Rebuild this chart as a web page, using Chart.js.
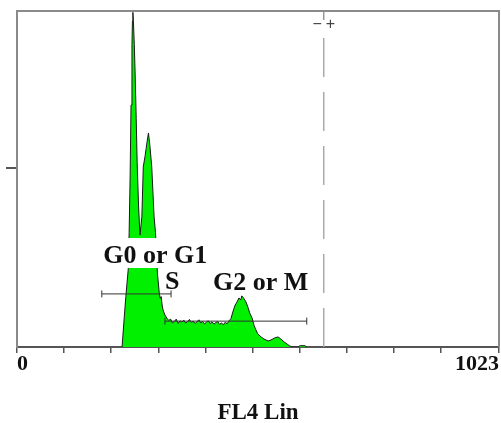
<!DOCTYPE html>
<html>
<head>
<meta charset="utf-8">
<script src="https://cdn.jsdelivr.net/npm/chart.js@4/dist/chart.umd.min.js"></script>
<style>
  html, body { margin: 0; padding: 0; background: #fff; overflow: hidden; }
  #wrap { width: 504px; height: 423px; }
</style>
</head>
<body>
<div id="wrap"><canvas id="c"></canvas></div>
<script>
'use strict';

// FL4 channel (0..1023) and event counts
const channels = [
  223, 227, 231, 236, 238, 240, 242, 244, 245, 246, 247, 249, 251, 253, 255,
  258, 261, 265, 268, 272, 274, 276, 279, 282, 286, 291, 294, 298, 302, 304,
  306, 308, 310, 314, 318,
  322, 326, 330, 334, 338, 342, 346, 350, 354, 358, 362, 366, 370, 374, 378,
  382, 386, 390, 394, 398, 402, 406, 410, 414, 418, 422, 426, 430, 434, 438,
  442, 446, 450,
  454, 458, 463, 467, 471, 475, 477, 480, 482, 486, 490, 494, 499, 503, 507,
  511, 518, 524, 533, 539, 547, 554, 560, 567, 573, 579, 586, 596, 601, 611, 615
];
const counts = [
  0, 7.7, 15, 23, 34, 50, 72, 90, 97, 99.6, 97, 90, 80, 68, 55,
  42, 33.3, 38.7, 53.6, 57, 59, 61, 63.7, 60, 53.6, 38.7, 34, 22, 16, 14.5,
  15, 12.5, 11, 9.5, 8.6,
  7.9, 8.3, 7.2, 7.6, 8.3, 7.0, 7.8, 7.4, 8.0, 7.1, 7.6, 8.2, 7.3, 7.7, 7.0,
  7.5, 8.1, 7.2, 7.6, 6.9, 7.4, 7.8, 7.0, 7.5, 6.8, 7.3, 7.6, 6.7, 7.2, 6.6,
  7.4, 6.9, 7.8,
  8.4, 10.4, 12.5, 13.4, 14.6, 14.0, 15.2, 14.8, 14.3, 13.4, 11.9, 10.1, 8.6, 6.5, 5.1,
  3.9, 3.0, 2.4, 1.8, 2.1, 2.7, 3.0, 2.4, 1.5, 0.9, 0.3, 0, 0, 0.4, 0.4, 0
];

const xTicks = [0, 100, 200, 300, 400, 500, 600, 700, 800, 900, 1023];
const yTicks = [53.3];

// region markers (channel range and height)
const rangeStart = [180, 314];
const rangeEnd = [327, 615];
const rangeLevel = [15.8, 7.7];

// phase labels, anchored at channel / count
const labelText = ['G0 or G1', 'S', 'G2 or M'];
const labelX = [183, 314, 416];
const labelY = [25, 17.3, 17];

const gateX = 651;

const histData = channels.map((c, i) => ({ x: c, y: counts[i] }));

const rangeSets = rangeStart.map((s, i) => ({
  data: [{ x: s, y: rangeLevel[i] }, { x: rangeEnd[i], y: rangeLevel[i] }],
  borderColor: '#333', borderWidth: 1, fill: false,
  pointStyle: 'line', pointRotation: 90, pointRadius: 3.5,
  pointBorderColor: '#333', pointBorderWidth: 1, order: 1
}));

const labelPlugin = {
  id: 'phaseLabels',
  afterDatasetDraw(chart, args) {
    if (args.index !== 0) return;
    const { ctx, scales: { x, y } } = chart;
    ctx.save();
    ctx.font = 'bold 26px "Liberation Serif"';
    ctx.textAlign = 'left';
    ctx.textBaseline = 'alphabetic';
    labelText.forEach((t, i) => {
      const px = x.getPixelForValue(labelX[i]);
      const py = y.getPixelForValue(labelY[i]);
      const w = ctx.measureText(t).width;
      ctx.fillStyle = '#fff';
      ctx.fillRect(px - 3, py - 25, w + 6, 30);
      ctx.fillStyle = '#111';
      ctx.fillText(t, px, py);
    });
    ctx.restore();
  },
  afterDatasetsDraw(chart) {
    const { ctx, chartArea: a, scales: { x } } = chart;
    ctx.save();
    ctx.strokeStyle = '#8a8a8a';
    ctx.lineWidth = 2;
    ctx.beginPath();
    ctx.moveTo(a.left, a.top);
    ctx.lineTo(a.right, a.top);
    ctx.lineTo(a.right, a.bottom);
    ctx.stroke();

    const gx = x.getPixelForValue(gateX);
    ctx.fillStyle = '#444';
    ctx.font = '16px "Liberation Sans"';
    ctx.textBaseline = 'middle';
    ctx.textAlign = 'right';
    ctx.fillText('\u2212', gx - 2, a.top + 14);
    ctx.textAlign = 'left';
    ctx.fillText('+', gx + 2, a.top + 14);
    ctx.restore();
  }
};

new Chart(document.getElementById('c'), {
  type: 'line',
  data: {
    datasets: [
      {
        data: histData, fill: 'origin', backgroundColor: '#00f000',
        borderColor: '#1a1a1a', borderWidth: 1, pointRadius: 0, tension: 0, order: 10
      },
      ...rangeSets,
      {
        data: [{ x: gateX, y: 92 }, { x: gateX, y: 0 }],
        borderColor: '#aaa', borderWidth: 1.5, borderDash: [39, 15], pointRadius: 0, fill: false, order: 2
      },
      {
        data: [{ x: gateX, y: 100 }, { x: gateX, y: 97.3 }],
        borderColor: '#999', borderWidth: 1.5, pointRadius: 0, fill: false, order: 2
      }
    ]
  },
  options: {
    responsive: true, maintainAspectRatio: false, animation: false,
    layout: { padding: { top: 11, right: 0, left: 0, bottom: 0 } },
    plugins: { legend: { display: false }, tooltip: { enabled: false } },
    scales: {
      x: {
        type: 'linear', min: 0, max: 1023,
        afterBuildTicks: s => { s.ticks = xTicks.map(v => ({ value: v })); },
        afterFit: s => { s.height = 76; s.paddingLeft = 0; s.paddingRight = 0; },
        ticks: {
          autoSkip: false, maxRotation: 0, align: 'inner', padding: 0, color: '#111',
          font: { family: 'Liberation Serif', size: 22, weight: 'bold', lineHeight: 1 },
          callback: v => (v === 0 || v === 1023) ? String(v) : ''
        },
        grid: { drawOnChartArea: false, tickLength: 6, color: '#555', lineWidth: 1.5 },
        border: { color: '#555', width: 2 },
        title: {
          display: true, text: 'FL4 Lin', color: '#111', padding: 0,
          font: { family: 'Liberation Serif', size: 23, weight: 'bold', lineHeight: 0.9 }
        }
      },
      y: {
        min: 0, max: 100,
        afterBuildTicks: s => { s.ticks = yTicks.map(v => ({ value: v })); },
        afterFit: s => { s.width = 17; },
        ticks: { display: false },
        grid: { drawOnChartArea: false, tickLength: 11, color: '#555', lineWidth: 2 },
        border: { color: '#8a8a8a', width: 2 }
      }
    }
  },
  plugins: [labelPlugin]
});
</script>
</body>
</html>
